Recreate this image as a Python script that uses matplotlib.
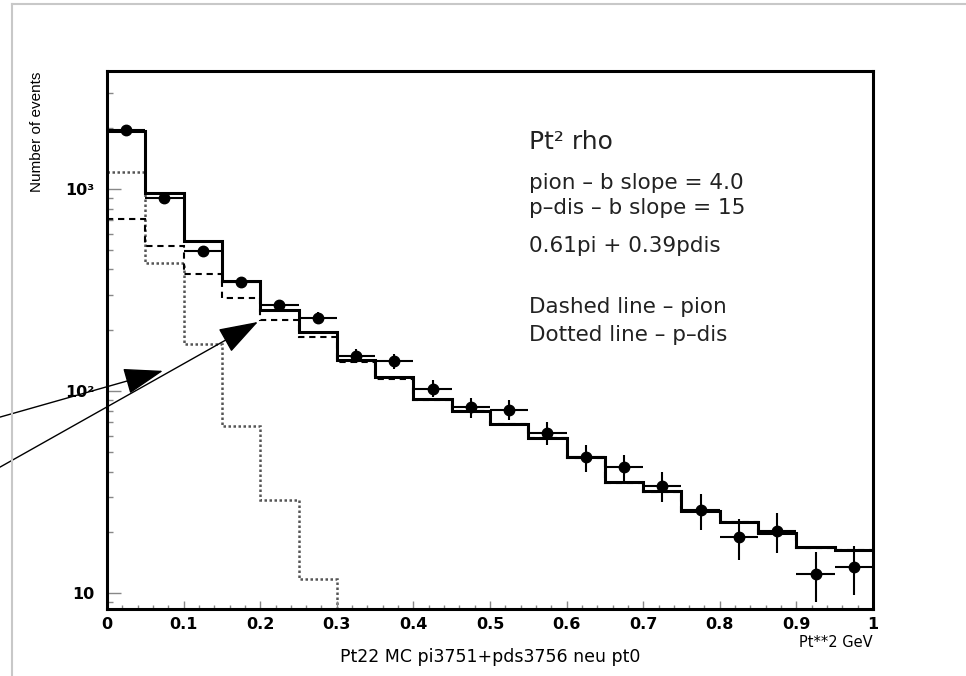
import matplotlib.pyplot as plt
from matplotlib.lines import Line2D
from matplotlib.ticker import FixedLocator, LogLocator, NullFormatter
import numpy as np

# bin edges of the Pt^2 histogram (GeV^2)
edges = np.linspace(0, 1, 21)
centers = (edges[:-1] + edges[1:]) / 2

# data points and their errors
data_counts = [1960, 902, 493, 347, 267, 230, 149, 141, 103, 83, 81, 62,
               47, 42, 34, 25.7, 19, 20.3, 12.5, 13.5]
data_errors = [44, 30, 22, 19, 16, 15, 12, 12, 10, 9, 9, 8,
               7, 6.5, 5.8, 5.1, 4.4, 4.5, 3.5, 3.7]

# sum 0.61pi + 0.39pdis (solid)
total_mc = [1937, 955, 553, 351, 252, 196, 142, 117, 91, 79.8, 68.7, 58.8,
            47, 35.3, 31.9, 25.5, 22.5, 19.9, 16.9, 16.4]
# pion part (dashed)
pion_mc = [710, 524, 379, 288, 225, 186, 139, 115, 90, 79.4, 68.5, 58.7,
           46.9, 35.2, 31.8, 25.4, 22.4, 19.8, 16.8, 16.3]
# p-dis part (dotted), falls below the axis after 0.3
pdis_mc = [1210, 433, 172, 67.3, 28.8, 11.7]

fig = plt.figure(figsize=(9.66, 6.76), dpi=100)
ax = fig.add_axes([0.1108, 0.0991, 0.7929, 0.7959])

ax.stairs(pdis_mc, edges[:len(pdis_mc) + 1], baseline=1, color='#555555',
          lw=1.8, linestyle=(0, (1, 1)))
ax.stairs(pion_mc, edges, baseline=None, color='black', lw=1.5,
          linestyle=(0, (3, 2.3)))
ax.stairs(total_mc, edges, baseline=None, color='black', lw=2.2)
ax.errorbar(centers, data_counts, xerr=0.025, yerr=data_errors, fmt='o',
            color='black', ms=7.5, elinewidth=1.5, capsize=0)

ax.set_yscale('log')
ax.set_xlim(0, 1)
ax.set_ylim(8.35, 3840)

# ticks
ax.xaxis.set_major_locator(FixedLocator(np.arange(0, 1.01, 0.1)))
ax.xaxis.set_minor_locator(FixedLocator(np.arange(0, 1.001, 0.02)))
ax.set_xticklabels(['0', '0.1', '0.2', '0.3', '0.4', '0.5', '0.6', '0.7',
                    '0.8', '0.9', '1'], fontweight='bold', fontsize=11.5)
ax.yaxis.set_major_locator(FixedLocator([10, 100, 1000]))
ax.yaxis.set_minor_locator(LogLocator(base=10, subs=np.arange(2, 10)))
ax.yaxis.set_minor_formatter(NullFormatter())
ax.set_yticklabels(['10', '10²', '10³'], fontweight='bold', fontsize=11.5)
ax.tick_params(axis='x', which='major', direction='in', length=6, width=1,
               color='#888888', pad=6, top=False)
ax.tick_params(axis='x', which='minor', direction='in', length=3, width=1,
               color='#888888', top=False)
ax.tick_params(axis='y', which='major', direction='in', length=10, width=1,
               color='#888888', pad=9, right=False)
ax.tick_params(axis='y', which='minor', direction='in', length=4.5, width=1,
               color='#888888', right=False)
for s in ax.spines.values():
    s.set_linewidth(2.2)

# axis titles
fig.text(0.038, 0.8935, 'Number of events', rotation=90, ha='center',
         va='top', fontsize=11, family=['Liberation Sans Narrow', 'Liberation Sans'])
fig.text(0.9037, 0.050, 'Pt**2 GeV', ha='right', va='center', fontsize=10.5)
fig.text(0.507, 0.028, 'Pt22 MC pi3751+pds3756 neu pt0', ha='center',
         va='center', fontsize=12.5)

# text block
tc = '#222222'
ax.text(0.551, 0.8545, 'Pt² rho', transform=ax.transAxes, fontsize=18,
        color=tc, va='baseline')
lines = [('pion – b slope = 4.0', 0.780),
         ('p–dis – b slope = 15', 0.734),
         ('0.61pi + 0.39pdis', 0.664),
         ('Dashed line – pion', 0.550),
         ('Dotted line – p–dis', 0.498)]
for txt, yy in lines:
    ax.text(0.551, yy, txt, transform=ax.transAxes, fontsize=15.5,
            color=tc, va='baseline')

# arrows coming in from the left
arrow = dict(arrowstyle='-|>,head_length=1.25,head_width=0.42',
             mutation_scale=20, lw=1, color='black', shrinkA=0, shrinkB=0)
ax.annotate('', xy=(0.073, 126), xycoords='data',
            xytext=(0.0, 0.383), textcoords='figure fraction',
            arrowprops=arrow, annotation_clip=False)
ax.annotate('', xy=(0.197, 220), xycoords='data',
            xytext=(0.0, 0.309), textcoords='figure fraction',
            arrowprops=arrow, annotation_clip=False)

# grey page frame
fig.add_artist(Line2D([0.0124, 0.0124], [0, 0.994], color='#c8c8c8', lw=1.5))
fig.add_artist(Line2D([0.0124, 1], [0.994, 0.994], color='#c8c8c8', lw=1.5))

fig.savefig('out.png', dpi=100)
